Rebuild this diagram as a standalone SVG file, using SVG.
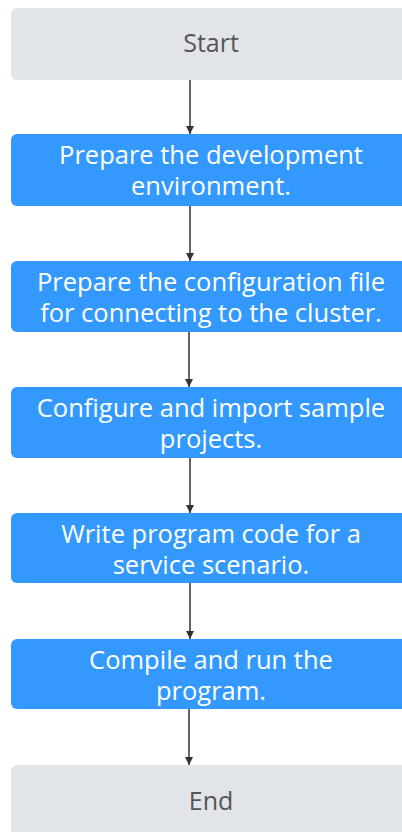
<svg xmlns="http://www.w3.org/2000/svg" width="402" height="832" viewBox="0 0 402 832">
<defs>
<style>
.term{fill:#e1e4e8;}
.proc{fill:#3399ff;}
.tt{font-family:"Open Sans","Noto Sans",sans-serif;font-size:25px;fill:#555555;text-anchor:middle;}
.pt{font-family:"Open Sans","Noto Sans",sans-serif;font-size:25.5px;fill:#ffffff;text-anchor:middle;}
.edge{stroke:#333333;stroke-width:1.5;fill:none;marker-end:url(#ah);}
</style>
<marker id="ah" viewBox="0 0 10 10" refX="10" refY="5" markerWidth="8" markerHeight="8" markerUnits="userSpaceOnUse" orient="auto">
<path d="M0,0 L10,5 L0,10 z" fill="#333333"/>
</marker>
</defs>
<g id="connectors">
<line class="edge" x1="190" y1="80" x2="190" y2="134"/>
<line class="edge" x1="190" y1="206" x2="190" y2="261"/>
<line class="edge" x1="189" y1="332" x2="189" y2="387"/>
<line class="edge" x1="190" y1="458" x2="190" y2="513"/>
<line class="edge" x1="190" y1="583" x2="190" y2="639"/>
<line class="edge" x1="189" y1="709" x2="189" y2="765"/>
</g>
<g id="start"><rect class="term" x="11" y="8" width="400" height="72" rx="6"/><text class="tt" x="211" y="52">Start</text></g>
<g id="n1"><rect class="proc" x="11" y="134" width="400" height="72" rx="6"/><text class="pt" x="211" y="164">Prepare the development</text><text class="pt" x="211" y="195">environment.</text></g>
<g id="n2"><rect class="proc" x="11" y="261" width="400" height="71" rx="6"/><text class="pt" x="211" y="291">Prepare the configuration file</text><text class="pt" x="211" y="322">for connecting to the cluster.</text></g>
<g id="n3"><rect class="proc" x="11" y="387" width="400" height="71" rx="6"/><text class="pt" x="211" y="417">Configure and import sample</text><text class="pt" x="211" y="448">projects.</text></g>
<g id="n4"><rect class="proc" x="11" y="513" width="400" height="70" rx="6"/><text class="pt" x="211" y="543">Write program code for a</text><text class="pt" x="211" y="574">service scenario.</text></g>
<g id="n5"><rect class="proc" x="11" y="639" width="400" height="70" rx="6"/><text class="pt" x="211" y="669">Compile and run the</text><text class="pt" x="211" y="700">program.</text></g>
<g id="end"><rect class="term" x="11" y="765" width="400" height="80" rx="6"/><text class="tt" x="211" y="810">End</text></g>
</svg>
